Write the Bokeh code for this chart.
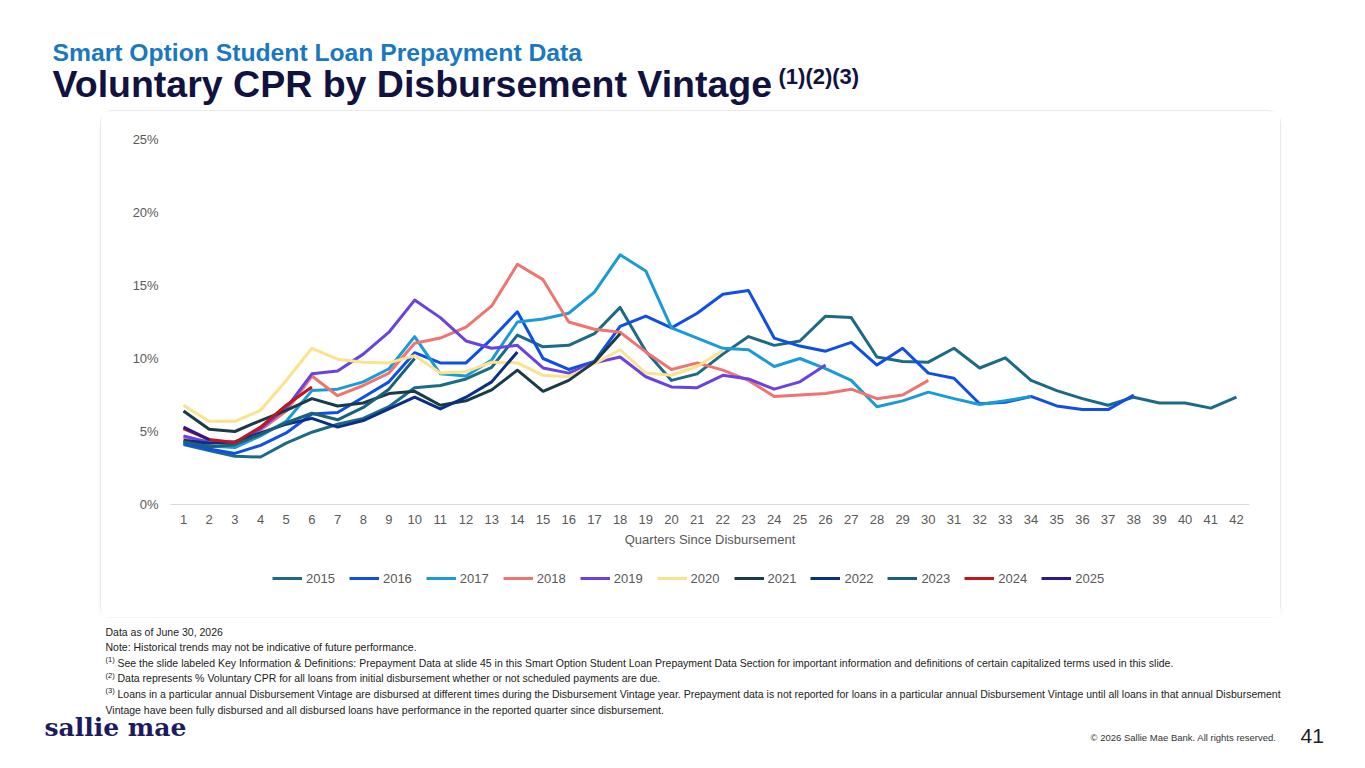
from bokeh.plotting import figure
from bokeh.layouts import column, row
from bokeh.models import (Range1d, FixedTicker, PrintfTickFormatter, Label,
                          Legend, LegendItem, Spacer)
from bokeh.embed import file_html
from bokeh.resources import INLINE

# ---------------------------------------------------------------- data
quarters = list(range(1, 43))
vintages = ["2015", "2016", "2017", "2018", "2019", "2020",
            "2021", "2022", "2023", "2024", "2025"]

cpr_2015 = [4.1, 3.7, 3.3, 3.25, 4.2, 4.95, 5.5, 5.9, 6.7, 8.0, 8.15, 8.6, 9.4, 11.6,
            10.8, 10.9, 11.7, 13.5, 10.5, 8.5, 8.95, 10.3, 11.5, 10.9, 11.2, 12.9, 12.8,
            10.1, 9.8, 9.75, 10.7, 9.35, 10.05, 8.5, 7.8, 7.25, 6.8, 7.35, 6.95, 6.95,
            6.6, 7.35]
cpr_2016 = [4.2, 3.8, 3.5, 4.05, 4.9, 6.2, 6.3, 7.35, 8.4, 10.4, 9.7, 9.7, 11.35, 13.2,
            10.0, 9.25, 9.8, 12.2, 12.9, 12.1, 13.1, 14.4, 14.65, 11.4, 10.85, 10.5,
            11.1, 9.55, 10.7, 9.0, 8.65, 6.9, 7.0, 7.4, 6.75, 6.5, 6.5, 7.5]
cpr_2017 = [4.3, 4.0, 3.9, 4.7, 5.7, 7.8, 7.9, 8.4, 9.3, 11.5, 8.95, 8.8, 9.9, 12.5,
            12.7, 13.1, 14.55, 17.1, 16.0, 12.1, 11.4, 10.7, 10.6, 9.45, 10.0, 9.3,
            8.5, 6.7, 7.1, 7.7, 7.25, 6.85, 7.1, 7.4]
cpr_2018 = [4.6, 4.3, 4.2, 5.1, 6.4, 8.8, 7.45, 8.15, 9.0, 11.05, 11.4, 12.15, 13.6,
            16.45, 15.4, 12.5, 12.0, 11.8, 10.45, 9.25, 9.7, 9.2, 8.5, 7.4, 7.5, 7.6,
            7.9, 7.25, 7.5, 8.5]
cpr_2019 = [4.7, 4.25, 4.2, 5.2, 6.6, 8.95, 9.15, 10.3, 11.8, 14.0, 12.8, 11.2, 10.7,
            10.9, 9.35, 9.0, 9.7, 10.1, 8.75, 8.05, 8.0, 8.85, 8.6, 7.9, 8.4, 9.55]
cpr_2020 = [6.8, 5.7, 5.7, 6.45, 8.5, 10.7, 9.95, 9.75, 9.7, 10.2, 9.0, 9.1, 9.75,
            9.7, 8.85, 8.75, 9.65, 10.6, 9.0, 8.85, 9.45, 10.55]
cpr_2021 = [6.4, 5.15, 5.0, 5.75, 6.45, 7.25, 6.75, 6.95, 7.6, 7.75, 6.8, 7.1, 7.85,
            9.2, 7.75, 8.5, 9.75, 11.7]
cpr_2022 = [4.4, 4.2, 4.3, 4.9, 5.5, 5.9, 5.3, 5.75, 6.55, 7.35, 6.55, 7.35, 8.4, 10.45]
cpr_2023 = [4.3, 3.95, 4.1, 4.8, 5.6, 6.25, 5.8, 6.65, 7.9, 10.0]
cpr_2024 = [5.2, 4.45, 4.25, 5.3, 6.8, 8.05]
cpr_2025 = [5.3, 4.45]

series = [cpr_2015, cpr_2016, cpr_2017, cpr_2018, cpr_2019, cpr_2020,
          cpr_2021, cpr_2022, cpr_2023, cpr_2024, cpr_2025]
colors = ["#1D6A86", "#0F4FE3", "#1A9BD7", "#EE7470", "#6A42E0", "#FBE38E",
          "#183B47", "#0A2F86", "#1B6079", "#C0161C", "#2C1A8C"]

y_ticks = [0, 5, 10, 15, 20, 25]

notes = [
    ("", "Data as of June 30, 2026"),
    ("", "Note: Historical trends may not be indicative of future performance."),
    ("(1)", "See the slide labeled Key Information & Definitions: Prepayment Data at slide 45 in this "
            "Smart Option Student Loan Prepayment Data Section for important information and "
            "definitions of certain capitalized terms used in this slide."),
    ("(2)", "Data represents % Voluntary CPR for all loans from initial disbursement whether or not "
            "scheduled payments are due."),
    ("(3)", "Loans in a particular annual Disbursement Vintage are disbursed at different times during "
            "the Disbursement Vintage year. Prepayment data is not reported for loans in a particular "
            "annual Disbursement Vintage until all loans in that annual Disbursement"),
    ("", "Vintage have been fully disbursed and all disbursed loans have performance in the "
         "reported quarter since disbursement."),
]

PAGE_W, PAGE_H = 1365, 768
CARD_L, CARD_R, CARD_T, CARD_B = 101, 1280, 111, 617
font = "Liberation Sans"


def blank_fig(height, y_top, y_bottom):
    f = figure(width=PAGE_W, height=height, output_backend="svg", toolbar_location=None,
               x_range=Range1d(0, PAGE_W), y_range=Range1d(y_bottom, y_top),
               x_axis_type=None, y_axis_type=None, min_border=0)
    f.outline_line_color = None
    f.xgrid.visible = False
    f.ygrid.visible = False
    return f


def note(f, text, x, y, size, color, fnt=font, bold=False, align="left"):
    f.add_layout(Label(x=x, y=y, text=text, text_font=fnt, text_font_size=f"{size}px",
                       text_color=color, text_font_style="bold" if bold else "normal",
                       text_align=align, text_baseline="middle"))


# ---------------------------------------------------------------- header
top = blank_fig(CARD_T, 0, CARD_T)
note(top, "Smart Option Student Loan Prepayment Data", 52, 52, 24.7, "#1A78C2", bold=True)
note(top, "Voluntary CPR by Disbursement Vintage", 52, 83, 37.5, "#12123F", bold=True)
note(top, "(1)(2)(3)", 778, 76, 22, "#12123F", bold=True)

# ---------------------------------------------------------------- chart (the card)
cw, ch = CARD_R - CARD_L, CARD_B - CARD_T
# plot area inside the card: quarter 1 at x=82, quarter 42 at x=1135, 25% at y=28, 0% at y=393
px_q = (1135 - 82) / 41
px_pct = (393 - 28) / 25
x_rng = Range1d(1 - 82 / px_q, 42 + (cw - 1135) / px_q)
y_rng = Range1d(-(ch - 393) / px_pct, 25 + 28 / px_pct)

p = figure(width=cw, height=ch, output_backend="svg", toolbar_location=None,
           x_range=x_rng, y_range=y_rng, min_border=0,
           styles={"border-radius": "12px",
                   "box-shadow": "0 0 0 1px #E9E9E9, 0 5px 8px rgba(0,0,0,0.05)"})
p.outline_line_color = None
p.xgrid.visible = False
p.ygrid.visible = False

p.yaxis.ticker = FixedTicker(ticks=y_ticks)
p.yaxis.formatter = PrintfTickFormatter(format="%d%%")
p.yaxis.fixed_location = 0.5
p.yaxis.axis_line_color = None
p.xaxis.ticker = FixedTicker(ticks=quarters)
p.xaxis.fixed_location = 0
p.xaxis.bounds = (0.5, 42.5)
p.xaxis.axis_line_color = "#D9D9D9"
for ax in (p.xaxis[0], p.yaxis[0]):
    ax.major_tick_line_color = None
    ax.minor_tick_line_color = None
    ax.major_tick_out = 0
    ax.major_tick_in = 0
    ax.major_label_text_font = font
    ax.major_label_text_font_size = "13px"
    ax.major_label_text_color = "#595959"
p.yaxis.major_label_standoff = 12
p.xaxis.major_label_standoff = 10
p.xaxis.axis_label = "Quarters Since Disbursement"
p.xaxis.axis_label_text_font = font
p.xaxis.axis_label_text_font_size = "13px"
p.xaxis.axis_label_text_font_style = "normal"
p.xaxis.axis_label_text_color = "#595959"
p.xaxis.axis_label_standoff = 5

items = []
for name, vals, col in zip(vintages, series, colors):
    r = p.line(quarters[:len(vals)], vals, line_color=col, line_width=3,
               line_join="round")
    items.append(LegendItem(label=name, renderers=[r]))

legend = Legend(items=items, orientation="horizontal", location=(272 - CARD_L, CARD_B - 586),
                padding=0, margin=0, spacing=14, glyph_width=30, glyph_height=16,
                label_height=16, label_standoff=4, border_line_color=None,
                background_fill_alpha=0, label_text_font=font,
                label_text_font_size="13px", label_text_color="#595959")
p.add_layout(legend)

mid = row(Spacer(width=CARD_L, height=ch), p, Spacer(width=PAGE_W - CARD_R, height=ch))

# ---------------------------------------------------------------- footer
bot = blank_fig(PAGE_H - CARD_B, CARD_B, PAGE_H)
y0 = 631
for i, (sup, txt) in enumerate(notes):
    yy = y0 + i * 15.6
    if sup:
        note(bot, sup, 105, yy - 3, 7.5, "#222222")
        note(bot, txt, 117, yy, 10.5, "#222222")
    else:
        note(bot, txt, 105, yy, 10.5, "#222222")

note(bot, "sallie mae", 44, 727, 25, "#1E1A60", fnt="DejaVu Serif", bold=True)
note(bot, "\u00a9 2026 Sallie Mae Bank. All rights reserved.", 1276, 737, 9.5, "#333333",
     align="right")
note(bot, "41", 1300, 735, 21, "#222222")

page = column(top, mid, bot)
open("out.html", "w").write(file_html(page, INLINE))
